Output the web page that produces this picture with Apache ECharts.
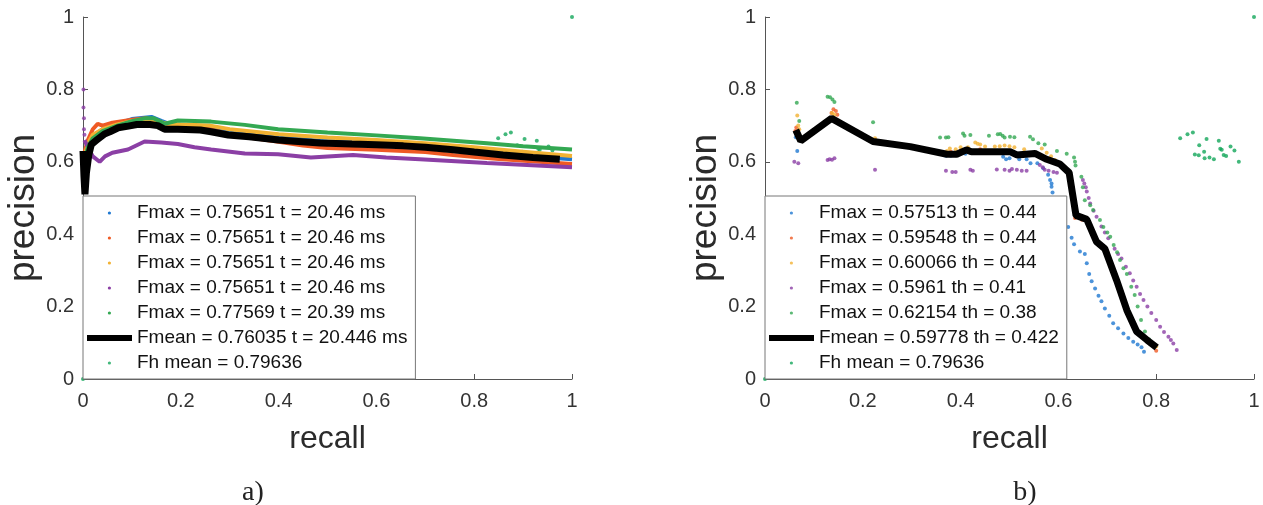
<!DOCTYPE html>
<html>
<head>
<meta charset="utf-8">
<title>precision / recall</title>
<script src="https://cdn.jsdelivr.net/npm/echarts@6/dist/echarts.min.js"></script>
<style>
  html, body { margin: 0; padding: 0; background: #fff; }
  #chart { width: 1263px; height: 505px; }
</style>
</head>
<body>
<div id="chart"></div>
<script>
// ---- data: [recall, precision] ----
// panel a)
var labelsA = ['Fmax = 0.75651 t = 20.46 ms', 'Fmax = 0.75651 t = 20.46 ms', 'Fmax = 0.75651 t = 20.46 ms',
               'Fmax = 0.75651 t = 20.46 ms', 'Fmax = 0.77569 t = 20.39 ms', 'Fmean = 0.76035 t = 20.446 ms',
               'Fh mean = 0.79636'];
var blueA = [[0.002,0.60],[0.01,0.64],[0.02,0.67],[0.04,0.69],[0.07,0.705],[0.1,0.718],[0.14,0.724],[0.16,0.713],
             [0.18,0.703],[0.22,0.698],[0.26,0.693],[0.3,0.684],[0.35,0.675],[0.4,0.668],[0.45,0.662],[0.5,0.656],
             [0.6,0.65],[0.7,0.64],[0.8,0.628],[0.9,0.617],[1.0,0.607]];
var orangeA = [[0.002,0.62],[0.01,0.66],[0.02,0.69],[0.03,0.705],[0.04,0.70],[0.06,0.708],[0.1,0.716],[0.13,0.72],
               [0.16,0.708],[0.2,0.698],[0.26,0.69],[0.3,0.675],[0.35,0.665],[0.4,0.655],[0.45,0.645],[0.5,0.638],
               [0.6,0.633],[0.7,0.627],[0.757,0.619],[0.85,0.608],[1.0,0.594]];
var yellowA = [[0.002,0.61],[0.01,0.65],[0.02,0.675],[0.04,0.69],[0.07,0.703],[0.1,0.712],[0.14,0.717],[0.17,0.705],
               [0.2,0.703],[0.26,0.70],[0.3,0.69],[0.35,0.683],[0.4,0.676],[0.5,0.667],[0.6,0.66],[0.7,0.651],
               [0.8,0.64],[0.9,0.628],[1.0,0.616]];
var purpleA = [[0.003,0.66],[0.01,0.64],[0.02,0.615],[0.034,0.60],[0.045,0.615],[0.06,0.625],[0.092,0.634],
               [0.126,0.656],[0.16,0.653],[0.194,0.649],[0.228,0.64],[0.262,0.634],[0.331,0.623],[0.399,0.621],
               [0.466,0.612],[0.552,0.619],[0.62,0.612],[0.689,0.607],[0.826,0.597],[1.0,0.585]];
var purpleStartA = [[0.001,0.80],[0.001,0.75],[0.002,0.72],[0.002,0.69],[0.003,0.675]];
var greenA = [[0.002,0.60],[0.01,0.64],[0.02,0.665],[0.04,0.685],[0.07,0.70],[0.1,0.712],[0.126,0.72],[0.145,0.72],
              [0.167,0.705],[0.194,0.714],[0.262,0.711],[0.331,0.702],[0.399,0.69],[0.5,0.681],[0.6,0.673],
              [0.689,0.665],[0.826,0.651],[0.9,0.643],[1.0,0.634]];
var meanA = [[0.0,0.63],[0.002,0.56],[0.004,0.51],[0.007,0.57],[0.012,0.62],[0.017,0.648],[0.028,0.66],[0.044,0.677],
             [0.055,0.683],[0.072,0.694],[0.09,0.698],[0.11,0.703],[0.137,0.703],[0.153,0.70],[0.167,0.69],
             [0.194,0.69],[0.24,0.688],[0.262,0.683],[0.297,0.674],[0.34,0.669],[0.4,0.66],[0.433,0.657],
             [0.485,0.652],[0.55,0.649],[0.6,0.647],[0.655,0.644],[0.7,0.64],[0.757,0.633],[0.8,0.627],
             [0.859,0.619],[0.92,0.612],[0.975,0.607]];
// Fh mean points (same in both panels)
var fhMean = [[0,0],[0.849,0.665],[0.864,0.676],[0.875,0.681],[0.903,0.663],[0.928,0.658],[0.952,0.642],[0.96,0.631],
              [0.931,0.636],[0.879,0.62],[0.887,0.618],[0.899,0.61],[0.909,0.612],[0.918,0.607],[0.938,0.619],
              [0.943,0.616],[0.969,0.60],[0.888,0.646],[0.898,0.628],[0.934,0.633],[1,1]];

// panel b)
var labelsB = ['Fmax = 0.57513 th = 0.44', 'Fmax = 0.59548 th = 0.44', 'Fmax = 0.60066 th = 0.44',
               'Fmax = 0.5961 th = 0.41', 'Fmax = 0.62154 th = 0.38', 'Fmean = 0.59778 th = 0.422',
               'Fh mean = 0.79636'];
var blueB = [[0.063,0.668],[0.066,0.63],[0.072,0.66],[0.136,0.715],[0.222,0.652],[0.37,0.617],[0.38,0.617],
             [0.39,0.618],[0.41,0.622],[0.42,0.625],[0.487,0.614],[0.493,0.607],[0.5,0.61],[0.52,0.607],
             [0.535,0.607],[0.543,0.596],[0.557,0.596],[0.569,0.582],[0.579,0.564],[0.583,0.55],[0.586,0.54],
             [0.586,0.531],[0.588,0.515],[0.62,0.42],[0.627,0.39],[0.632,0.372],[0.644,0.352],[0.654,0.345],
             [0.658,0.32],[0.663,0.29],[0.668,0.27],[0.675,0.25],[0.682,0.23],[0.688,0.215],[0.695,0.195],
             [0.704,0.175],[0.712,0.154],[0.722,0.14],[0.733,0.126],[0.743,0.113],[0.753,0.103],[0.762,0.095],
             [0.77,0.088],[0.775,0.075]];
var orangeB = [[0.062,0.685],[0.064,0.695],[0.068,0.68],[0.136,0.735],[0.14,0.745],[0.145,0.74],[0.148,0.73],
               [0.222,0.66],[0.38,0.628],[0.4,0.63],[0.41,0.632],[0.44,0.635],[0.46,0.63],[0.48,0.628],[0.5,0.628],
               [0.52,0.62],[0.55,0.622],[0.575,0.605],[0.6,0.594],[0.62,0.572],[0.628,0.52],[0.632,0.49],
               [0.634,0.445],[0.648,0.44],[0.658,0.438],[0.668,0.41],[0.678,0.378],[0.69,0.362],[0.7,0.352],
               [0.71,0.31],[0.72,0.27],[0.73,0.23],[0.74,0.19],[0.75,0.16],[0.76,0.13],[0.77,0.118],[0.782,0.105],
               [0.792,0.095],[0.8,0.078]];
var yellowB = [[0.066,0.728],[0.068,0.70],[0.07,0.69],[0.137,0.735],[0.142,0.73],[0.225,0.665],[0.372,0.63],
               [0.378,0.637],[0.39,0.635],[0.4,0.64],[0.415,0.64],[0.43,0.653],[0.435,0.65],[0.44,0.648],
               [0.45,0.642],[0.47,0.642],[0.48,0.643],[0.49,0.645],[0.5,0.643],[0.51,0.64],[0.53,0.635],
               [0.566,0.637],[0.576,0.625],[0.585,0.615],[0.593,0.605],[0.61,0.59],[0.625,0.56],[0.632,0.50],
               [0.638,0.46],[0.65,0.445],[0.662,0.43],[0.672,0.40],[0.682,0.375],[0.695,0.36],[0.705,0.33],
               [0.715,0.29],[0.725,0.25],[0.735,0.21],[0.745,0.175],[0.755,0.145],[0.768,0.125],[0.78,0.11],
               [0.79,0.10],[0.8,0.09]];
var purpleB = [[0.06,0.60],[0.068,0.596],[0.128,0.605],[0.132,0.607],[0.137,0.606],[0.142,0.61],[0.225,0.578],
               [0.37,0.575],[0.383,0.572],[0.39,0.572],[0.42,0.578],[0.425,0.575],[0.474,0.579],[0.49,0.578],
               [0.5,0.575],[0.505,0.58],[0.515,0.578],[0.525,0.575],[0.535,0.575],[0.562,0.591],[0.568,0.585],
               [0.572,0.578],[0.58,0.575],[0.59,0.572],[0.597,0.57],[0.65,0.55],[0.653,0.54],[0.656,0.53],
               [0.658,0.518],[0.662,0.50],[0.665,0.485],[0.672,0.465],[0.678,0.448],[0.688,0.421],[0.695,0.405],
               [0.702,0.389],[0.715,0.36],[0.722,0.345],[0.729,0.333],[0.738,0.31],[0.746,0.292],[0.753,0.272],
               [0.76,0.255],[0.767,0.235],[0.774,0.218],[0.782,0.20],[0.79,0.182],[0.8,0.163],[0.808,0.144],
               [0.816,0.13],[0.825,0.117],[0.83,0.108],[0.835,0.098],[0.842,0.08]];
var greenB = [[0.065,0.763],[0.07,0.713],[0.128,0.78],[0.133,0.778],[0.138,0.772],[0.142,0.765],[0.221,0.709],
              [0.358,0.667],[0.37,0.667],[0.375,0.668],[0.405,0.678],[0.408,0.672],[0.42,0.674],[0.458,0.672],
              [0.476,0.676],[0.481,0.677],[0.486,0.672],[0.49,0.667],[0.501,0.669],[0.51,0.668],[0.542,0.669],
              [0.548,0.662],[0.559,0.651],[0.572,0.648],[0.597,0.63],[0.617,0.622],[0.632,0.612],[0.634,0.60],
              [0.635,0.59],[0.647,0.559],[0.65,0.53],[0.654,0.494],[0.665,0.48],[0.671,0.467],[0.685,0.439],
              [0.692,0.42],[0.70,0.405],[0.706,0.393],[0.713,0.37],[0.72,0.35],[0.726,0.329],[0.733,0.306],
              [0.74,0.29],[0.749,0.255],[0.756,0.232],[0.762,0.20],[0.769,0.163],[0.777,0.131],[0.785,0.11]];
var meanB = [[0.063,0.688],[0.073,0.658],[0.136,0.72],[0.221,0.656],[0.297,0.642],[0.372,0.621],[0.392,0.621],
             [0.412,0.633],[0.422,0.628],[0.44,0.628],[0.501,0.628],[0.515,0.619],[0.552,0.623],[0.576,0.607],
             [0.603,0.594],[0.622,0.57],[0.631,0.494],[0.636,0.452],[0.658,0.441],[0.678,0.379],[0.695,0.36],
             [0.719,0.273],[0.74,0.19],[0.76,0.131],[0.781,0.108],[0.801,0.087]];

var colors = ['#1f78d1', '#ef5a24', '#f2b233', '#8b3fa5', '#33a852', '#000000', '#13a65a'];

var font = 'Liberation Sans';
// a small dot centred in a 45x6 legend cell
var dotIcon = 'path://M0,0M45,6M24,3A1.6,1.6,0,1,1,20.8,3A1.6,1.6,0,1,1,24,3Z';

function axisX(grid) {
    return {
        gridIndex: grid, type: 'value', min: 0, max: 1, interval: 0.2,
        name: 'recall', nameLocation: 'middle', nameGap: 44,
        nameTextStyle: { fontFamily: font, fontSize: 32, color: '#2b2b2b' },
        axisLine: { lineStyle: { color: '#555', width: 1 } },
        axisTick: { inside: true, length: 5, lineStyle: { color: '#555' } },
        axisLabel: { fontFamily: font, fontSize: 20, color: '#333', margin: 12 },
        splitLine: { show: false }
    };
}
function axisY(grid) {
    return {
        gridIndex: grid, type: 'value', min: 0, max: 1, interval: 0.2,
        name: 'precision', nameLocation: 'middle', nameGap: 34,
        nameTextStyle: { fontFamily: font, fontSize: 37, color: '#2b2b2b', padding: [0, 20, 0, 0] },
        axisLine: { show: true, lineStyle: { color: '#555', width: 1 } },
        axisTick: { show: true, inside: true, length: 5, lineStyle: { color: '#555' } },
        axisLabel: { fontFamily: font, fontSize: 20, color: '#333', margin: 9 },
        splitLine: { show: false }
    };
}
function legend(prefix, labels, left) {
    var names = labels.map(function (l, i) { return prefix + i; });
    return {
        orient: 'vertical', left: left, top: 196,
        padding: [7, 8, 6, 4], itemGap: 5, itemWidth: 45, itemHeight: 6,
        backgroundColor: '#fff', borderColor: '#777', borderWidth: 1,
        selectedMode: false,
        textStyle: { fontFamily: font, fontSize: 19, color: '#111', lineHeight: 20 },
        data: names.map(function (n, i) { return { name: n, icon: i === 5 ? 'rect' : dotIcon }; }),
        formatter: function (n) { return labels[names.indexOf(n)]; }
    };
}
function curve(name, data, color, width, grid) {
    return { name: name, type: 'line', data: data, xAxisIndex: grid, yAxisIndex: grid,
             showSymbol: false, symbol: 'none', itemStyle: { color: color },
             lineStyle: { color: color, width: width } };
}
function dots(name, data, color, size, grid) {
    return { name: name, type: 'scatter', data: data, xAxisIndex: grid, yAxisIndex: grid,
             symbolSize: size, itemStyle: { color: color } };
}

var chart = echarts.init(document.getElementById('chart'), null, { renderer: 'canvas' });
chart.setOption({
    animation: false,
    backgroundColor: '#fff',
    title: [
        { text: 'a)', left: 248, top: 474, textAlign: 'center',
          textStyle: { fontFamily: 'Liberation Serif', fontSize: 28, fontWeight: 'normal', color: '#222' } },
        { text: 'b)', left: 1020, top: 474, textAlign: 'center',
          textStyle: { fontFamily: 'Liberation Serif', fontSize: 28, fontWeight: 'normal', color: '#222' } }
    ],
    grid: [
        { left: 83, right: 691, top: 17, bottom: 126 },
        { left: 765, right: 9, top: 17, bottom: 126 }
    ],
    xAxis: [axisX(0), axisX(1)],
    yAxis: [axisY(0), axisY(1)],
    legend: [legend('a', labelsA, 83), legend('b', labelsB, 765)],
    series: [
        curve('a0', blueA, colors[0], 4, 0),
        curve('a1', orangeA, colors[1], 4, 0),
        curve('a2', yellowA, colors[2], 4, 0),
        curve('a3', purpleA, colors[3], 4, 0),
        dots('a3', purpleStartA, colors[3], 4, 0),
        curve('a4', greenA, colors[4], 4, 0),
        curve('a5', meanA, colors[5], 7, 0),
        dots('a6', fhMean, colors[6], 4, 0),

        dots('b0', blueB, colors[0], 4, 1),
        dots('b1', orangeB, colors[1], 4, 1),
        dots('b2', yellowB, colors[2], 4, 1),
        dots('b3', purpleB, colors[3], 4, 1),
        dots('b4', greenB, colors[4], 4, 1),
        curve('b5', meanB, colors[5], 7, 1),
        dots('b6', fhMean, colors[6], 4, 1)
    ]
});
</script>
</body>
</html>
